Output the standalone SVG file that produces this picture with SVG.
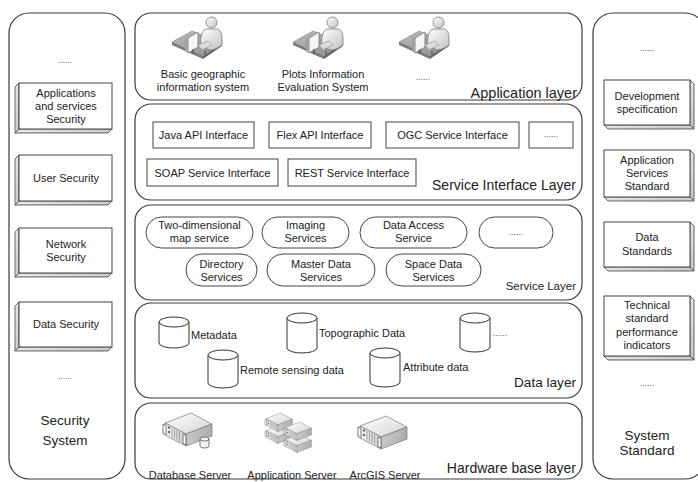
<svg xmlns="http://www.w3.org/2000/svg" width="698" height="482" viewBox="0 0 698 482">
  <style>
    .panel { fill: #fff; stroke: #3a3a3a; stroke-width: 1.2; }
    .box { fill: #fff; stroke: #444; stroke-width: 1; }
    .side { fill: url(#sideGrad); stroke: #444; stroke-width: 0.8; }
    .cyl { fill: #fff; stroke: #333; stroke-width: 1; }
    .t { font-family: "Liberation Sans", Arial, sans-serif; font-size: 11px; fill: #222; text-anchor: middle; }
    .tl { font-family: "Liberation Sans", Arial, sans-serif; font-size: 11px; fill: #222; }
    .dots { font-family: "Liberation Sans", Arial, sans-serif; font-size: 8.5px; fill: #555; text-anchor: middle; }
    .lay { font-family: "Liberation Sans", Arial, sans-serif; fill: #222; text-anchor: end; }
    .ttl { font-family: "Liberation Sans", Arial, sans-serif; font-size: 13.5px; fill: #222; text-anchor: middle; }
  </style>
  <defs>
    <linearGradient id="sideGrad" x1="0" y1="0" x2="1" y2="1">
      <stop offset="0" stop-color="#f4f4f4"/>
      <stop offset="1" stop-color="#bdbdbd"/>
    </linearGradient>
    <linearGradient id="topGrad" x1="0" y1="0" x2="1" y2="1">
      <stop offset="0" stop-color="#ffffff"/>
      <stop offset="1" stop-color="#d4d4d4"/>
    </linearGradient>
    <linearGradient id="frontGrad" x1="0" y1="0" x2="1" y2="0">
      <stop offset="0" stop-color="#f0f0f0"/>
      <stop offset="1" stop-color="#cfcfcf"/>
    </linearGradient>
    <linearGradient id="rightGrad" x1="0" y1="0" x2="1" y2="0">
      <stop offset="0" stop-color="#c8c8c8"/>
      <stop offset="1" stop-color="#adadad"/>
    </linearGradient>
    <linearGradient id="floorGrad" x1="0" y1="0" x2="1" y2="1">
      <stop offset="0" stop-color="#bcbcbc"/>
      <stop offset="1" stop-color="#8c8c8c"/>
    </linearGradient>
    <linearGradient id="bodyGrad" x1="0" y1="0" x2="1" y2="1">
      <stop offset="0" stop-color="#ffffff"/>
      <stop offset="1" stop-color="#c2c2c2"/>
    </linearGradient>

    <!-- user at a workstation on an isometric floor tile -->
    <symbol id="workstation" viewBox="0 0 52 46" width="52" height="46" overflow="visible">
      <polygon points="0,27 31,41 31,44 0,30" fill="#7a7a7a"/>
      <polygon points="31,41 50,28 50,31 31,44" fill="#676767"/>
      <polygon points="0,27 20,16 50,28 31,41" fill="url(#floorGrad)" stroke="#777" stroke-width="0.5"/>
      <polygon points="16,23 26,17 26,32 16,38" fill="#f6f6f6" stroke="#777" stroke-width="0.8"/>
      <polygon points="13,24 16,23 16,38 13,36" fill="#a0a0a0"/>
      <line x1="21" y1="34" x2="21" y2="39" stroke="#555" stroke-width="1.2"/>
      <path d="M29,33 C28,24 29,16 34,14 L45,14 C49,15 50,19 50,24 L50,30 C46,33 42,35 38,35 L33,33 Z" fill="url(#bodyGrad)" stroke="#777" stroke-width="0.8"/>
      <path d="M26,30 L36,26 L40,30 L30,35 Z" fill="#dcdcdc" stroke="#888" stroke-width="0.6"/>
      <circle cx="39.5" cy="7.5" r="5.5" fill="url(#bodyGrad)" stroke="#777" stroke-width="0.8"/>
      <line x1="33" y1="36" x2="33" y2="40" stroke="#555" stroke-width="1.2"/>
    </symbol>

    <!-- rack server, isometric -->
    <symbol id="server" viewBox="0 0 50 34" width="50" height="34" overflow="visible">
      <polygon points="2,10 28,0 49,11 23,21" fill="url(#topGrad)" stroke="#777" stroke-width="0.7"/>
      <polygon points="2,10 23,21 23,33 2,22" fill="url(#frontGrad)" stroke="#777" stroke-width="0.7"/>
      <polygon points="23,21 49,11 49,23 23,33" fill="url(#rightGrad)" stroke="#777" stroke-width="0.7"/>
      <path d="M0,11 L3,12.5 L3,22 L0,20.5 Z" fill="#fff" stroke="#555" stroke-width="0.8"/>
      <path d="M20,21 L23,22.5 L23,32 L20,30.5 Z" fill="#fff" stroke="#555" stroke-width="0.8"/>
      <circle cx="6" cy="14.5" r="1.1" fill="#444"/>
      <circle cx="6" cy="19" r="1.1" fill="#444"/>
      <line x1="9" y1="15" x2="9" y2="24" stroke="#888" stroke-width="0.7"/>
      <line x1="11.5" y1="16.3" x2="11.5" y2="25.3" stroke="#888" stroke-width="0.7"/>
      <line x1="14" y1="17.6" x2="14" y2="26.6" stroke="#888" stroke-width="0.7"/>
      <line x1="16.5" y1="18.9" x2="16.5" y2="27.9" stroke="#888" stroke-width="0.7"/>
    </symbol>
  </defs>

  <!-- security system column -->
  <g id="security-system">
    <rect class="panel" x="9" y="13" width="116" height="466" rx="20"/>
    <text class="dots" x="65" y="63">......</text>
    <text class="dots" x="65" y="379">......</text>
    <text class="ttl" x="65" y="425">Security</text>
    <text class="ttl" x="65" y="445">System</text>
  </g>
  <g id="sec-apps">
    <polygon class="side" points="19,83 15,87 15,133 19,129"/>
    <polygon class="side" points="15,133 108,133 112,129 19,129"/>
    <rect class="box" x="19" y="83" width="93" height="46"/>
    <text class="t" x="66" y="97">Applications</text>
    <text class="t" x="66" y="110">and services</text>
    <text class="t" x="66" y="123">Security</text>
  </g>
  <g id="sec-user">
    <polygon class="side" points="19,155 15,159 15,205 19,201"/>
    <polygon class="side" points="15,205 108,205 112,201 19,201"/>
    <rect class="box" x="19" y="155" width="93" height="46"/>
    <text class="t" x="66" y="182">User Security</text>
  </g>
  <g id="sec-network">
    <polygon class="side" points="19,228 15,232 15,277 19,273"/>
    <polygon class="side" points="15,277 108,277 112,273 19,273"/>
    <rect class="box" x="19" y="228" width="93" height="45"/>
    <text class="t" x="66" y="248">Network</text>
    <text class="t" x="66" y="261">Security</text>
  </g>
  <g id="sec-data">
    <polygon class="side" points="19,302 15,306 15,351 19,347"/>
    <polygon class="side" points="15,351 108,351 112,347 19,347"/>
    <rect class="box" x="19" y="302" width="93" height="45"/>
    <text class="t" x="66" y="328">Data Security</text>
  </g>

  <!-- system standard column -->
  <g id="system-standard">
    <rect class="panel" x="593" y="13" width="112" height="466" rx="20"/>
    <text class="dots" x="647" y="51">......</text>
    <text class="dots" x="647" y="386">......</text>
    <text class="ttl" x="647" y="440">System</text>
    <text class="ttl" x="647" y="455">Standard</text>
  </g>
  <g id="std-dev">
    <polygon class="side" points="690,80 694,84 694,129 690,125"/>
    <polygon class="side" points="604,125 608,129 694,129 690,125"/>
    <rect class="box" x="604" y="80" width="86" height="45"/>
    <text class="t" x="647" y="100">Development</text>
    <text class="t" x="647" y="113">specification</text>
  </g>
  <g id="std-app">
    <polygon class="side" points="690,150 694,154 694,201 690,197"/>
    <polygon class="side" points="604,197 608,201 694,201 690,197"/>
    <rect class="box" x="604" y="150" width="86" height="47"/>
    <text class="t" x="647" y="164">Application</text>
    <text class="t" x="647" y="177">Services</text>
    <text class="t" x="647" y="190">Standard</text>
  </g>
  <g id="std-data">
    <polygon class="side" points="690,222 694,226 694,271 690,267"/>
    <polygon class="side" points="604,267 608,271 694,271 690,267"/>
    <rect class="box" x="604" y="222" width="86" height="45"/>
    <text class="t" x="647" y="241">Data</text>
    <text class="t" x="647" y="255">Standards</text>
  </g>
  <g id="std-tech">
    <polygon class="side" points="690,296 694,300 694,360 690,356"/>
    <polygon class="side" points="604,356 608,360 694,360 690,356"/>
    <rect class="box" x="604" y="296" width="86" height="60"/>
    <text class="t" x="647" y="309">Technical</text>
    <text class="t" x="647" y="322">standard</text>
    <text class="t" x="647" y="336">performance</text>
    <text class="t" x="647" y="349">indicators</text>
  </g>

  <!-- application layer -->
  <g id="application-layer">
    <rect class="panel" x="135" y="13" width="447" height="87" rx="16"/>
    <text class="lay" x="577" y="98" font-size="14.5">Application layer</text>
  </g>
  <g id="app-basic-gis">
    <use href="#workstation" x="172" y="15"/>
    <text class="t" x="203" y="78">Basic geographic</text>
    <text class="t" x="203" y="91">information system</text>
  </g>
  <g id="app-plots">
    <use href="#workstation" x="293" y="15"/>
    <text class="t" x="323" y="78">Plots Information</text>
    <text class="t" x="323" y="91">Evaluation System</text>
  </g>
  <g id="app-more">
    <use href="#workstation" x="399" y="15"/>
    <text class="dots" x="423" y="80">......</text>
  </g>

  <!-- service interface layer -->
  <g id="service-interface-layer">
    <rect class="panel" x="135" y="104" width="447" height="96" rx="16"/>
    <text class="lay" x="576" y="190" font-size="14">Service Interface Layer</text>
  </g>
  <g id="if-java">
    <rect class="box" x="153" y="122" width="101" height="26"/>
    <text class="t" x="203.5" y="139">Java API Interface</text>
  </g>
  <g id="if-flex">
    <rect class="box" x="269" y="122" width="102" height="26"/>
    <text class="t" x="320" y="139">Flex API Interface</text>
  </g>
  <g id="if-ogc">
    <rect class="box" x="386" y="122" width="133" height="26"/>
    <text class="t" x="452.5" y="139">OGC Service Interface</text>
  </g>
  <g id="if-more">
    <rect class="box" x="529" y="122" width="44" height="26"/>
    <text class="dots" x="551" y="137">......</text>
  </g>
  <g id="if-soap">
    <rect class="box" x="147" y="159" width="131" height="27"/>
    <text class="t" x="212.5" y="176.5">SOAP Service Interface</text>
  </g>
  <g id="if-rest">
    <rect class="box" x="288" y="159" width="128" height="27"/>
    <text class="t" x="352" y="176.5">REST Service Interface</text>
  </g>

  <!-- service layer -->
  <g id="service-layer">
    <rect class="panel" x="135" y="205" width="447" height="95" rx="16"/>
    <text class="lay" x="576" y="290" font-size="11.5">Service Layer</text>
  </g>
  <g id="svc-2d-map">
    <rect class="box" x="146" y="217" width="107" height="31" rx="15.5"/>
    <text class="t" x="199.5" y="229">Two-dimensional</text>
    <text class="t" x="199.5" y="242">map service</text>
  </g>
  <g id="svc-imaging">
    <rect class="box" x="262" y="217" width="87" height="31" rx="15.5"/>
    <text class="t" x="305.5" y="229">Imaging</text>
    <text class="t" x="305.5" y="242">Services</text>
  </g>
  <g id="svc-data-access">
    <rect class="box" x="360" y="217" width="107" height="31" rx="15.5"/>
    <text class="t" x="413.5" y="229">Data Access</text>
    <text class="t" x="413.5" y="242">Service</text>
  </g>
  <g id="svc-more">
    <rect class="box" x="479" y="217" width="74" height="31" rx="15.5"/>
    <text class="dots" x="516" y="235">......</text>
  </g>
  <g id="svc-directory">
    <rect class="box" x="186" y="254" width="71" height="32" rx="16"/>
    <text class="t" x="221.5" y="268">Directory</text>
    <text class="t" x="221.5" y="281">Services</text>
  </g>
  <g id="svc-master">
    <rect class="box" x="267" y="254" width="108" height="32" rx="16"/>
    <text class="t" x="321" y="268">Master Data</text>
    <text class="t" x="321" y="281">Services</text>
  </g>
  <g id="svc-space">
    <rect class="box" x="386" y="254" width="95" height="32" rx="16"/>
    <text class="t" x="433.5" y="268">Space Data</text>
    <text class="t" x="433.5" y="281">Services</text>
  </g>

  <!-- data layer -->
  <g id="data-layer">
    <rect class="panel" x="135" y="303" width="447" height="95" rx="16"/>
    <text class="lay" x="576" y="387" font-size="13.6">Data layer</text>
  </g>
  <g id="db-metadata">
    <path class="cyl" d="M159,322 A15,5 0 0 1 189,322 V343 A15,5 0 0 1 159,343 Z"/>
    <path class="cyl" fill="none" d="M159,322 A15,5 0 0 0 189,322"/>
    <text class="tl" x="191" y="339">Metadata</text>
  </g>
  <g id="db-topographic">
    <path class="cyl" d="M287,318 A15,5 0 0 1 317,318 V348 A15,5 0 0 1 287,348 Z"/>
    <path class="cyl" fill="none" d="M287,318 A15,5 0 0 0 317,318"/>
    <text class="tl" x="319" y="337">Topographic Data</text>
  </g>
  <g id="db-more">
    <path class="cyl" d="M460,318 A15,5 0 0 1 490,318 V347 A15,5 0 0 1 460,347 Z"/>
    <path class="cyl" fill="none" d="M460,318 A15,5 0 0 0 490,318"/>
    <text class="dots" x="500" y="336">......</text>
  </g>
  <g id="db-remote-sensing">
    <path class="cyl" d="M208,355 A15,5 0 0 1 238,355 V383 A15,5 0 0 1 208,383 Z"/>
    <path class="cyl" fill="none" d="M208,355 A15,5 0 0 0 238,355"/>
    <text class="tl" x="240" y="374">Remote sensing data</text>
  </g>
  <g id="db-attribute">
    <path class="cyl" d="M370,353 A15,5 0 0 1 400,353 V382 A15,5 0 0 1 370,382 Z"/>
    <path class="cyl" fill="none" d="M370,353 A15,5 0 0 0 400,353"/>
    <text class="tl" x="403" y="371">Attribute data</text>
  </g>

  <!-- hardware base layer -->
  <g id="hardware-layer">
    <rect class="panel" x="135" y="403" width="447" height="76" rx="16"/>
    <text class="lay" x="576" y="473" font-size="14">Hardware base layer</text>
  </g>
  <g id="hw-database-server">
    <use href="#server" x="163" y="413"/>
    <path d="M200,439 A4.5,2 0 0 1 209,439 V446 A4.5,2 0 0 1 200,446 Z" fill="#f4f4f4" stroke="#555" stroke-width="0.8"/>
    <path d="M200,439 A4.5,2 0 0 0 209,439" fill="none" stroke="#555" stroke-width="0.8"/>
    <text class="t" x="190" y="479">Database Server</text>
  </g>
  <g id="hw-application-server">
    <use href="#server" x="0" y="0" transform="translate(265,425) scale(0.56)"/>
    <use href="#server" x="0" y="0" transform="translate(265,413) scale(0.56)"/>
    <use href="#server" x="0" y="0" transform="translate(284,434) scale(0.56)"/>
    <use href="#server" x="0" y="0" transform="translate(284,422) scale(0.56)"/>
    <text class="t" x="292" y="479">Application Server</text>
  </g>
  <g id="hw-arcgis-server">
    <use href="#server" x="358" y="416"/>
    <text class="t" x="385" y="479">ArcGIS Server</text>
  </g>
</svg>
